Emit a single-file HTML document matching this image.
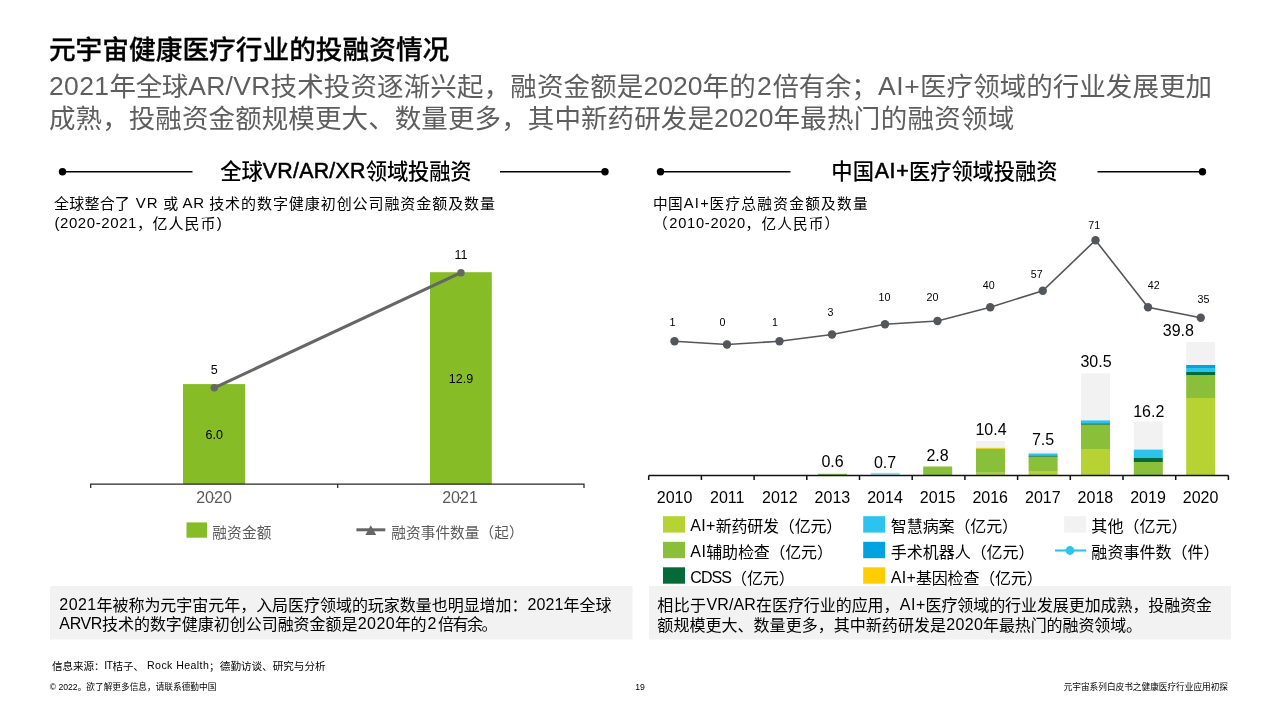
<!DOCTYPE html>
<html lang="zh-CN"><head><meta charset="utf-8"><title>元宇宙健康医疗行业的投融资情况</title>
<style>
html,body{margin:0;padding:0;background:#fff;}
body{width:1280px;height:720px;position:relative;overflow:hidden;font-family:"Liberation Sans","Noto Sans CJK SC",sans-serif;}
.g{position:absolute;left:0;top:0;}
.t{position:absolute;white-space:pre;margin:0;padding:0;}
.m{display:inline-block;width:0;height:0;vertical-align:baseline;}
.c{display:inline-block;transform:translateY(.05em) scaleY(1);transform-origin:50% 76.65%;}
</style></head><body>
<svg class="g" width="1280" height="720" viewBox="0 0 1280 720">
<rect x="50" y="586" width="582.5" height="53.5" fill="#f2f2f2"/>
<rect x="649" y="586" width="582" height="53.5" fill="#f2f2f2"/>
<line x1="62.5" y1="171.8" x2="192.5" y2="171.8" stroke="#000" stroke-width="1.4"/>
<circle cx="62.5" cy="171.8" r="3.7" fill="#000"/>
<line x1="500" y1="171.8" x2="605" y2="171.8" stroke="#000" stroke-width="1.4"/>
<circle cx="605" cy="171.8" r="3.7" fill="#000"/>
<line x1="660.5" y1="171.8" x2="790.5" y2="171.8" stroke="#000" stroke-width="1.4"/>
<circle cx="660.5" cy="171.8" r="3.7" fill="#000"/>
<line x1="1097.5" y1="171.8" x2="1202.5" y2="171.8" stroke="#000" stroke-width="1.4"/>
<circle cx="1202.5" cy="171.8" r="3.7" fill="#000"/>
<rect x="183" y="384.1" width="62.2" height="100" fill="#86BC25"/>
<rect x="430" y="272.2" width="61.8" height="212" fill="#86BC25"/>
<path d="M90.7 488 V484 H584 V488 M337.7 484 V488" fill="none" stroke="#262626" stroke-width="1.25"/>
<line x1="214.3" y1="387.8" x2="461" y2="272.7" stroke="#666" stroke-width="3"/>
<circle cx="214.3" cy="387.8" r="3.7" fill="#666"/><circle cx="461" cy="272.7" r="3.7" fill="#666"/>
<circle cx="214" cy="498" r="0.8" fill="#333"/><circle cx="460.3" cy="497.8" r="0.9" fill="#333"/>
<rect x="186.5" y="522.4" width="20.5" height="15.3" fill="#86BC25"/>
<line x1="356.4" y1="529.8" x2="385.3" y2="529.8" stroke="#666" stroke-width="3"/>
<path d="M370.8 525.3 L376.2 535 H365.4 Z" fill="#666"/>
<rect x="818" y="473.8" width="29" height="1.20" fill="#8ABF3A"/>
<rect x="870.7" y="472.8" width="29" height="2.20" fill="#9fdcec"/>
<rect x="923.2" y="466.5" width="29" height="8.50" fill="#8ABF3A"/>
<rect x="976" y="441" width="29" height="6.80" fill="#F2F2F2"/>
<rect x="976" y="447.8" width="29" height="1.00" fill="#FFCD00"/>
<rect x="976" y="448.8" width="29" height="24.00" fill="#8ABF3A"/>
<rect x="976" y="472.8" width="29" height="2.20" fill="#B7D333"/>
<rect x="1028.6" y="450.5" width="29" height="3.00" fill="#F2F2F2"/>
<rect x="1028.6" y="453.5" width="29" height="2.10" fill="#2CC4EF"/>
<rect x="1028.6" y="455.6" width="29" height="1.20" fill="#046A38"/>
<rect x="1028.6" y="456.8" width="29" height="14.20" fill="#8ABF3A"/>
<rect x="1028.6" y="471" width="29" height="4.00" fill="#B7D333"/>
<rect x="1081" y="373.3" width="29" height="47.10" fill="#F2F2F2"/>
<rect x="1081" y="420.4" width="29" height="3.00" fill="#2CC4EF"/>
<rect x="1081" y="423.4" width="29" height="1.40" fill="#046A38"/>
<rect x="1081" y="424.8" width="29" height="24.20" fill="#8ABF3A"/>
<rect x="1081" y="449" width="29" height="26.00" fill="#B7D333"/>
<rect x="1133.8" y="421.5" width="29" height="27.70" fill="#F2F2F2"/>
<rect x="1133.8" y="449.2" width="29" height="0.80" fill="#FFCD00"/>
<rect x="1133.8" y="450" width="29" height="7.80" fill="#2CC4EF"/>
<rect x="1133.8" y="457.8" width="29" height="4.20" fill="#046A38"/>
<rect x="1133.8" y="462" width="29" height="13.00" fill="#8ABF3A"/>
<rect x="1186.2" y="342" width="29" height="23.00" fill="#F2F2F2"/>
<rect x="1186.2" y="365" width="29" height="3.00" fill="#00A3E0"/>
<rect x="1186.2" y="368" width="29" height="4.00" fill="#2CC4EF"/>
<rect x="1186.2" y="372" width="29" height="3.00" fill="#046A38"/>
<rect x="1186.2" y="375" width="29" height="23.00" fill="#8ABF3A"/>
<rect x="1186.2" y="398" width="29" height="77.00" fill="#B7D333"/>
<path d="M648.7 475.5 H1228.5 M648.7 475.5 V480 M701.4 475.5 V480 M754.1 475.5 V480 M806.8 475.5 V480 M859.5 475.5 V480 M912.2 475.5 V480 M964.9 475.5 V480 M1017.6 475.5 V480 M1070.3 475.5 V480 M1123.0 475.5 V480 M1175.7 475.5 V480 M1228.4 475.5 V480" fill="none" stroke="#111" stroke-width="1.5"/>
<polyline points="674.5,341.25 727,344.5 779.5,341.25 832,334.5 885,324.25 937.5,321 990.25,307.25 1042.75,290.75 1095.5,240.25 1148,307.25 1200.75,317.75" fill="none" stroke="#53565A" stroke-width="1.6"/>
<circle cx="674.5" cy="341.25" r="4.2" fill="#53565A"/>
<circle cx="727" cy="344.5" r="4.2" fill="#53565A"/>
<circle cx="779.5" cy="341.25" r="4.2" fill="#53565A"/>
<circle cx="832" cy="334.5" r="4.2" fill="#53565A"/>
<circle cx="885" cy="324.25" r="4.2" fill="#53565A"/>
<circle cx="937.5" cy="321" r="4.2" fill="#53565A"/>
<circle cx="990.25" cy="307.25" r="4.2" fill="#53565A"/>
<circle cx="1042.75" cy="290.75" r="4.2" fill="#53565A"/>
<circle cx="1095.5" cy="240.25" r="4.2" fill="#53565A"/>
<circle cx="1148" cy="307.25" r="4.2" fill="#53565A"/>
<circle cx="1200.75" cy="317.75" r="4.2" fill="#53565A"/>
<rect x="663" y="516.2" width="22" height="16.4" fill="#B7D333"/>
<rect x="663" y="541.8" width="22" height="16.4" fill="#8ABF3A"/>
<rect x="663" y="567.3" width="22" height="16.4" fill="#046A38"/>
<rect x="863.2" y="516.2" width="22" height="16.4" fill="#2CC4EF"/>
<rect x="863.2" y="541.8" width="22" height="16.4" fill="#00A3E0"/>
<rect x="863.2" y="567.3" width="22" height="16.4" fill="#FFCD00"/>
<rect x="1064.2" y="516.2" width="22" height="16.4" fill="#F2F2F2"/>
<line x1="1055" y1="550.5" x2="1086.2" y2="550.5" stroke="#2CC4EF" stroke-width="2.1"/><circle cx="1070" cy="550.5" r="4.4" fill="#2CC4EF"/>
</svg>
<div class="t" style="top:32px;font-size:26.67px;line-height:35px;color:#000;font-weight:500;-webkit-text-stroke:0.3px #000;left:48.93px;"><span class="c" style="letter-spacing:0.035px">元宇宙健康医疗行业的投融资情况</span></div>
<div class="t" style="top:69px;font-size:26.5px;line-height:34px;color:#5e5e5e;left:48.94px;"><span style="letter-spacing:0.402px">2021</span><span class="c" style="letter-spacing:-0.333px">年全球</span><span style="margin-left:0.15px;margin-right:-0.15px;letter-spacing:0.300px">AR/VR</span><span class="c" style="letter-spacing:0.143px">技术投资逐渐兴起，融资金额是</span><span style="letter-spacing:0.012px">2020</span><span class="c" style="letter-spacing:0.250px">年的</span><span style="margin-left:0.88px;margin-right:-0.88px;letter-spacing:1.750px">2</span><span class="c" style="letter-spacing:-0.250px">倍有余；</span><span style="margin-left:0.33px;margin-right:-0.33px;letter-spacing:0.661px">AI+</span><span class="c" style="letter-spacing:0.045px">医疗领域的行业发展更加</span></div>
<div class="t" style="top:101px;font-size:26.5px;line-height:34px;color:#5e5e5e;left:48.94px;"><span class="c" style="letter-spacing:0.102px">成熟，投融资金额规模更大、数量更多，其中新药研发是</span><span style="letter-spacing:0.137px">2020</span><span class="c" style="letter-spacing:0.278px">年最热门的融资领域</span></div>
<div class="t" style="top:157px;font-size:21.33px;line-height:28px;color:#000;font-weight:500;left:220.15px;"><span class="c" style="letter-spacing:-0.009px">全球</span><span style="-webkit-text-stroke:0.55px #000;letter-spacing:0.281px">VR/AR/XR</span><span class="c" style="letter-spacing:-0.191px">领域投融资</span></div>
<div class="t" style="top:157px;font-size:21.33px;line-height:28px;color:#000;font-weight:500;left:831.15px;"><span class="c" style="letter-spacing:0.241px">中国</span><span style="-webkit-text-stroke:0.55px #000;margin-left:0.35px;margin-right:-0.35px;letter-spacing:0.697px">AI+</span><span class="c" style="letter-spacing:-0.116px">医疗领域投融资</span></div>
<div class="t" style="top:193px;font-size:15px;line-height:20px;color:#000;left:54.10px;"><span class="c" style="letter-spacing:0.177px">全球整合了</span><span style="margin-left:0.51px;margin-right:-0.51px;letter-spacing:1.028px"> VR </span><span class="c" style="letter-spacing:0.084px">或</span><span style="margin-left:0.31px;margin-right:-0.31px;letter-spacing:0.610px"> AR </span><span class="c" style="letter-spacing:0.932px">技术的数字健康初创公司融资金额及数量</span></div>
<div class="t" style="top:213px;font-size:15px;line-height:20px;color:#000;left:54.40px;"><span style="letter-spacing:0.587px">(2020-2021</span><span class="c" style="letter-spacing:0.484px">，</span><span class="c" style="letter-spacing:0.996px">亿人民币</span><span style="margin-left:0.25px;margin-right:-0.25px;letter-spacing:0.500px">)</span></div>
<div class="t" style="top:194px;font-size:14.67px;line-height:19px;color:#000;left:652.91px;"><span class="c" style="letter-spacing:0.379px">中国</span><span style="margin-left:0.68px;margin-right:-0.68px;letter-spacing:1.359px">AI+</span><span class="c" style="letter-spacing:1.292px">医疗总融资金额及数量</span></div>
<div class="t" style="top:214px;font-size:14.67px;line-height:19px;color:#000;left:652.91px;"><span class="c" style="letter-spacing:1.415px">（</span><span style="margin-left:0.36px;margin-right:-0.36px;letter-spacing:0.712px">2010-2020</span><span class="c" style="letter-spacing:1.328px">，</span><span class="c" style="letter-spacing:1.090px">亿人民币</span><span class="c" style="letter-spacing:-0.172px">）</span></div>
<div class="t" style="top:247px;font-size:12.5px;line-height:16px;color:#000;left:361.00px;width:200px;text-align:center;">11</div>
<div class="t" style="top:362px;font-size:12.5px;line-height:16px;color:#000;left:114.30px;width:200px;text-align:center;">5</div>
<div class="t" style="top:371px;font-size:12.5px;line-height:16px;color:#000;left:361.00px;width:200px;text-align:center;">12.9</div>
<div class="t" style="top:427px;font-size:12.5px;line-height:16px;color:#000;left:114.30px;width:200px;text-align:center;">6.0</div>
<div class="t" style="top:487px;font-size:16px;line-height:21px;color:#5a5a5a;left:114.00px;width:200px;text-align:center;">2020</div>
<div class="t" style="top:487px;font-size:16px;line-height:21px;color:#5a5a5a;left:360.00px;width:200px;text-align:center;">2021</div>
<div class="t" style="top:523px;font-size:14.67px;line-height:19px;color:#5a5a5a;left:212.21px;"><span class="c" style="letter-spacing:0.187px">融资金额</span></div>
<div class="t" style="top:523px;font-size:14.67px;line-height:19px;color:#5a5a5a;left:391.21px;"><span class="c" style="letter-spacing:0.074px">融资事件数量（起）</span></div>
<div class="t" style="top:315px;font-size:10.67px;line-height:14px;color:#000;left:572.50px;width:200px;text-align:center;">1</div>
<div class="t" style="top:315px;font-size:10.67px;line-height:14px;color:#000;left:622.50px;width:200px;text-align:center;">0</div>
<div class="t" style="top:315px;font-size:10.67px;line-height:14px;color:#000;left:675.00px;width:200px;text-align:center;">1</div>
<div class="t" style="top:305px;font-size:10.67px;line-height:14px;color:#000;left:730.50px;width:200px;text-align:center;">3</div>
<div class="t" style="top:290px;font-size:10.67px;line-height:14px;color:#000;left:784.50px;width:200px;text-align:center;">10</div>
<div class="t" style="top:290px;font-size:10.67px;line-height:14px;color:#000;left:832.50px;width:200px;text-align:center;">20</div>
<div class="t" style="top:278px;font-size:10.67px;line-height:14px;color:#000;left:888.75px;width:200px;text-align:center;">40</div>
<div class="t" style="top:267px;font-size:10.67px;line-height:14px;color:#000;left:936.75px;width:200px;text-align:center;">57</div>
<div class="t" style="top:218px;font-size:10.67px;line-height:14px;color:#000;left:994.25px;width:200px;text-align:center;">71</div>
<div class="t" style="top:278px;font-size:10.67px;line-height:14px;color:#000;left:1053.75px;width:200px;text-align:center;">42</div>
<div class="t" style="top:292px;font-size:10.67px;line-height:14px;color:#000;left:1103.50px;width:200px;text-align:center;">35</div>
<div class="t" style="top:451px;font-size:16px;line-height:21px;color:#000;left:732.50px;width:200px;text-align:center;">0.6</div>
<div class="t" style="top:452px;font-size:16px;line-height:21px;color:#000;left:785.00px;width:200px;text-align:center;">0.7</div>
<div class="t" style="top:445px;font-size:16px;line-height:21px;color:#000;left:837.50px;width:200px;text-align:center;">2.8</div>
<div class="t" style="top:419px;font-size:16px;line-height:21px;color:#000;left:891.00px;width:200px;text-align:center;">10.4</div>
<div class="t" style="top:429px;font-size:16px;line-height:21px;color:#000;left:943.00px;width:200px;text-align:center;">7.5</div>
<div class="t" style="top:351px;font-size:16px;line-height:21px;color:#000;left:996.00px;width:200px;text-align:center;">30.5</div>
<div class="t" style="top:401px;font-size:16px;line-height:21px;color:#000;left:1048.75px;width:200px;text-align:center;">16.2</div>
<div class="t" style="top:320px;font-size:16px;line-height:21px;color:#000;left:1078.40px;width:200px;text-align:center;">39.8</div>
<div class="t" style="top:487px;font-size:16px;line-height:21px;color:#000;left:574.60px;width:200px;text-align:center;">2010</div>
<div class="t" style="top:487px;font-size:16px;line-height:21px;color:#000;left:627.20px;width:200px;text-align:center;">2011</div>
<div class="t" style="top:487px;font-size:16px;line-height:21px;color:#000;left:679.80px;width:200px;text-align:center;">2012</div>
<div class="t" style="top:487px;font-size:16px;line-height:21px;color:#000;left:732.40px;width:200px;text-align:center;">2013</div>
<div class="t" style="top:487px;font-size:16px;line-height:21px;color:#000;left:785.00px;width:200px;text-align:center;">2014</div>
<div class="t" style="top:487px;font-size:16px;line-height:21px;color:#000;left:837.60px;width:200px;text-align:center;">2015</div>
<div class="t" style="top:487px;font-size:16px;line-height:21px;color:#000;left:890.20px;width:200px;text-align:center;">2016</div>
<div class="t" style="top:487px;font-size:16px;line-height:21px;color:#000;left:942.80px;width:200px;text-align:center;">2017</div>
<div class="t" style="top:487px;font-size:16px;line-height:21px;color:#000;left:995.40px;width:200px;text-align:center;">2018</div>
<div class="t" style="top:487px;font-size:16px;line-height:21px;color:#000;left:1048.00px;width:200px;text-align:center;">2019</div>
<div class="t" style="top:487px;font-size:16px;line-height:21px;color:#000;left:1100.60px;width:200px;text-align:center;">2020</div>
<div class="t" style="top:515px;font-size:16px;line-height:21px;color:#000;left:690.36px;"><span style="letter-spacing:0.290px">AI+</span><span class="c" style="letter-spacing:-0.214px">新药研发（亿元）</span></div>
<div class="t" style="top:541px;font-size:16px;line-height:21px;color:#000;left:690.36px;"><span style="letter-spacing:0.407px">AI</span><span class="c" style="letter-spacing:-0.202px">辅助检查（亿元）</span></div>
<div class="t" style="top:567px;font-size:16px;line-height:21px;color:#000;left:690.36px;"><span style="letter-spacing:-0.953px">CDSS</span><span class="c" style="letter-spacing:-0.129px">（亿元）</span></div>
<div class="t" style="top:515px;font-size:16px;line-height:21px;color:#000;left:890.86px;"><span class="c" style="letter-spacing:-0.109px">智慧病案（亿元）</span></div>
<div class="t" style="top:541px;font-size:16px;line-height:21px;color:#000;left:890.86px;"><span class="c" style="letter-spacing:-0.042px">手术机器人（亿元）</span></div>
<div class="t" style="top:567px;font-size:16px;line-height:21px;color:#000;left:890.86px;"><span style="letter-spacing:0.224px">AI+</span><span class="c" style="letter-spacing:-0.189px">基因检查（亿元）</span></div>
<div class="t" style="top:515px;font-size:16px;line-height:21px;color:#000;left:1091.36px;"><span class="c" style="letter-spacing:0.021px">其他（亿元）</span></div>
<div class="t" style="top:541px;font-size:16px;line-height:21px;color:#000;left:1091.36px;"><span class="c" style="letter-spacing:0.016px">融资事件数（件）</span></div>
<div class="t" style="top:594px;font-size:16px;line-height:21px;color:#000;left:59.36px;"><span style="letter-spacing:0.387px">2021</span><span class="c" style="letter-spacing:-0.038px">年被称为元宇宙元年，入局医疗领域的玩家数量也明显增加：</span><span style="letter-spacing:0.102px">2021</span><span class="c" style="letter-spacing:-0.005px">年全球</span></div>
<div class="t" style="top:613px;font-size:16px;line-height:21px;color:#000;left:59.36px;"><span style="letter-spacing:-0.383px">ARVR</span><span class="c" style="letter-spacing:-0.032px">技术的数字健康初创公司融资金额是</span><span style="margin-left:0.24px;margin-right:-0.24px;letter-spacing:0.477px">2020</span><span class="c" style="letter-spacing:-0.508px">年的</span><span style="margin-left:1.55px;margin-right:-1.55px;letter-spacing:3.094px">2</span><span class="c" style="letter-spacing:-1.504px">倍有余。</span></div>
<div class="t" style="top:594px;font-size:16px;line-height:21px;color:#000;left:657.36px;"><span class="c" style="letter-spacing:0.375px">相比于</span><span style="letter-spacing:0.119px">VR/AR</span><span class="c" style="letter-spacing:-0.057px">在医疗行业的应用，</span><span style="margin-left:0.26px;margin-right:-0.26px;letter-spacing:0.510px">AI+</span><span class="c" style="letter-spacing:-0.084px">医疗领域的行业发展更加成熟，投融资金</span></div>
<div class="t" style="top:614px;font-size:16px;line-height:21px;color:#000;left:657.36px;"><span class="c" style="letter-spacing:0.035px">额规模更大、数量更多，其中新药研发是</span><span style="margin-left:0.18px;margin-right:-0.18px;letter-spacing:0.352px">2020</span><span class="c" style="letter-spacing:-0.102px">年最热门的融资领域。</span></div>
<div class="t" style="top:658px;font-size:10.6px;line-height:14px;color:#000;left:52.08px;"><span class="c" style="letter-spacing:-0.089px">信息来源：</span><span style="margin-left:-0.36px;margin-right:0.36px;letter-spacing:-0.711px">IT</span><span class="c" style="letter-spacing:-0.294px">桔子、</span><span style="margin-left:0.20px;margin-right:-0.20px;letter-spacing:0.404px"> Rock Health</span><span class="c" style="letter-spacing:0.206px">；</span><span class="c" style="letter-spacing:-0.024px">德勤访谈、研究与分析</span></div>
<div class="t" style="top:682px;font-size:8.67px;line-height:11px;color:#000;left:49.65px;"><span>© 2022</span><span class="c" style="letter-spacing:0.012px">。欲了解更多信息，请联系德勤中国</span></div>
<div class="t" style="top:682px;font-size:8.67px;line-height:11px;color:#000;left:540.00px;width:200px;text-align:center;">19</div>
<div class="t" style="top:682px;font-size:8.67px;line-height:11px;color:#000;left:1063.65px;"><span class="c" style="letter-spacing:-0.007px">元宇宙系列白皮书之健康医疗行业应用初探</span></div>
</body></html>
